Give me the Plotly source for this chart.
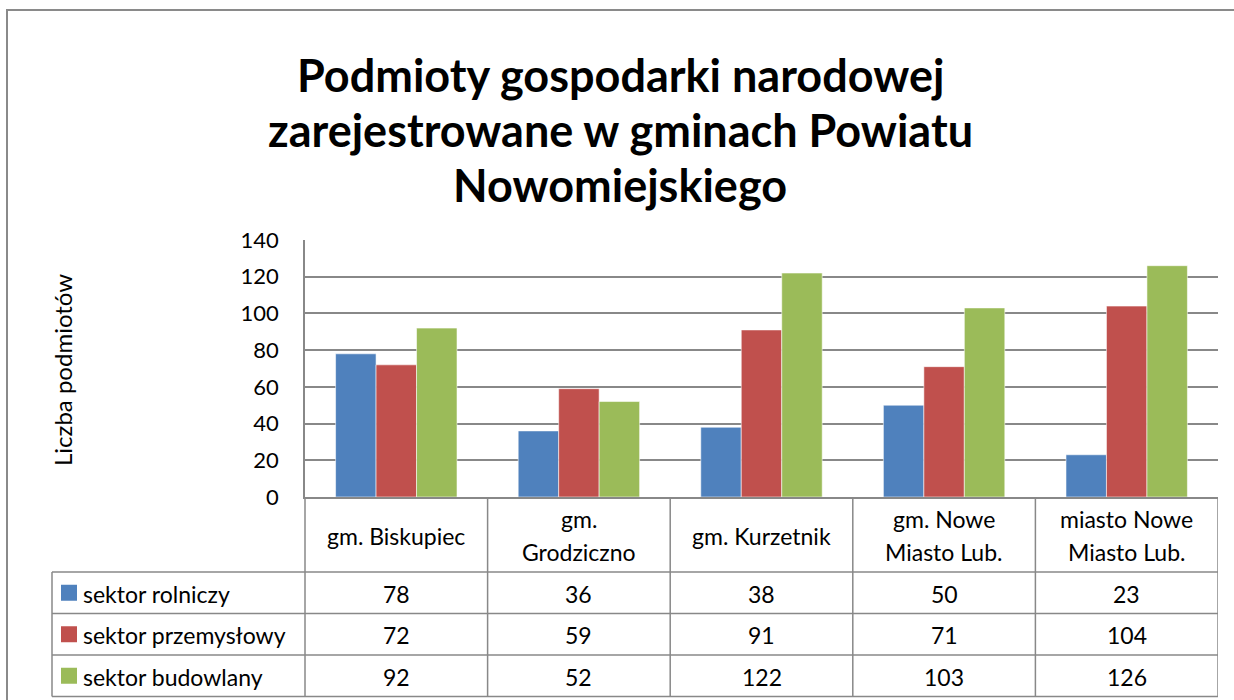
import plotly.graph_objects as go

# ---- data ----
categories = ["gm. Biskupiec", "gm. Grodziczno", "gm. Kurzetnik",
              "gm. Nowe Miasto Lub.", "miasto Nowe Miasto Lub."]
header_lines = [["gm. Biskupiec"], ["gm.", "Grodziczno"], ["gm. Kurzetnik"],
                ["gm. Nowe", "Miasto Lub."], ["miasto Nowe", "Miasto Lub."]]
series_names = ["sektor rolniczy", "sektor przemysłowy", "sektor budowlany"]
rolniczy = [78, 36, 38, 50, 23]
przemyslowy = [72, 59, 91, 71, 104]
budowlany = [92, 52, 122, 103, 126]
series_values = [rolniczy, przemyslowy, budowlany]
colors = ["#4F81BD", "#C0504D", "#9BBB59"]
y_ticks = [0, 20, 40, 60, 80, 100, 120, 140]
title_lines = ["Podmioty gospodarki narodowej", "zarejestrowane w gminach Powiatu", "Nowomiejskiego"]

W, H = 1234, 700
OFF = 0  # body margin removed via post_script
FONT = "Lato"
GRID = "#888888"


def px(x):
    return (x - OFF) / W


def py(y):
    return 1 - (y - OFF) / H


plot_left, plot_right, plot_top, plot_bottom = 305, 1218, 240, 497
header_bottom = 572
row_h = 41.5
table_left = 52
TS = 22
TT = 23

fig = go.Figure()
for name, vals, col in zip(series_names, series_values, colors):
    fig.add_trace(go.Bar(
        x=categories, y=vals, name=name,
        marker=dict(color=col, line=dict(color="rgba(255,255,255,0.55)", width=1)),
        hoverinfo="skip",
    ))

shapes = []
annotations = []

# chart frame
shapes.append(dict(type="rect", xref="paper", yref="paper",
                   x0=px(7), x1=px(W + 30), y0=py(10), y1=py(H + 30),
                   line=dict(color="#8a8a8a", width=2)))

# table horizontal lines
for i in range(4):
    yy = header_bottom + i * row_h
    shapes.append(dict(type="line", xref="paper", yref="paper",
                       x0=px(table_left), x1=px(plot_right), y0=py(yy), y1=py(yy),
                       line=dict(color=GRID, width=1.5)))
table_bottom = header_bottom + 3 * row_h
# table vertical lines
shapes.append(dict(type="line", xref="paper", yref="paper",
                   x0=px(table_left), x1=px(table_left), y0=py(header_bottom), y1=py(table_bottom),
                   line=dict(color=GRID, width=1.5)))
shapes.append(dict(type="line", xref="paper", yref="paper",
                   x0=px(plot_left), x1=px(plot_left), y0=py(plot_bottom), y1=py(table_bottom),
                   line=dict(color=GRID, width=1.5)))
for i in range(len(categories)):
    shapes.append(dict(type="line", xref="x", yref="paper",
                       x0=i + 0.5, x1=i + 0.5, y0=py(plot_bottom), y1=py(table_bottom),
                       line=dict(color=GRID, width=1.5)))

# title
for k, ln in enumerate(title_lines):
    annotations.append(dict(x=px(620), y=py(75 + k * 55), xref="paper", yref="paper",
                            text="<b>" + ln + "</b>", showarrow=False,
                            xanchor="center", yanchor="middle",
                            font=dict(family=FONT, size=45, color="black")))

# header labels
header_c = (plot_bottom + header_bottom) / 2 + 1
for cat, lines in zip(categories, header_lines):
    n = len(lines)
    for k, ln in enumerate(lines):
        yy = header_c + (k - (n - 1) / 2) * 33
        annotations.append(dict(x=cat, y=py(yy), xref="x", yref="paper",
                                text=ln, showarrow=False, xanchor="center", yanchor="middle",
                                font=dict(family=FONT, size=TT, color="black")))

# data rows
for r, (name, vals, col) in enumerate(zip(series_names, series_values, colors)):
    yc = header_bottom + (r + 0.5) * row_h
    shapes.append(dict(type="rect", xref="paper", yref="paper",
                       x0=px(61), x1=px(77), y0=py(yc - 8), y1=py(yc + 8),
                       fillcolor=col, line=dict(width=0)))
    annotations.append(dict(x=px(81), y=py(yc + 1), xref="paper", yref="paper",
                            text=name, showarrow=False, xanchor="left", yanchor="middle",
                            font=dict(family=FONT, size=TT, color="black")))
    for cat, v in zip(categories, vals):
        annotations.append(dict(x=cat, y=py(yc + 1), xref="x", yref="paper",
                                text=str(v), showarrow=False, xanchor="center", yanchor="middle",
                                font=dict(family=FONT, size=TT, color="black")))

# y axis title
annotations.append(dict(x=px(62), y=py(370), xref="paper", yref="paper",
                        text="Liczba podmiotów", textangle=-90, showarrow=False,
                        xanchor="center", yanchor="middle",
                        font=dict(family=FONT, size=24, color="black")))

fig.update_layout(
    width=W, height=H,
    margin=dict(l=0, r=0, t=0, b=0, autoexpand=False),
    paper_bgcolor="white", plot_bgcolor="white",
    showlegend=False,
    barmode="group", bargap=0.335, bargroupgap=0,
    xaxis=dict(domain=[px(plot_left), px(plot_right)], range=[-0.5, len(categories) - 0.5],
               showticklabels=False, showgrid=False, showline=True, linecolor=GRID, linewidth=1.5,
               ticks="", zeroline=False, automargin=False),
    yaxis=dict(domain=[py(plot_bottom), py(plot_top)], range=[0, 140],
               tickvals=y_ticks, ticktext=[str(t) for t in y_ticks],
               showgrid=True, gridcolor=GRID, gridwidth=1.5,
               showline=True, linecolor=GRID, linewidth=1.5, zeroline=False,
               ticks="", ticklabelstandoff=20, automargin=False,
               tickfont=dict(family=FONT, size=TS, color="black")),
    shapes=shapes, annotations=annotations,
)

fig.write_html("out.html",
               config={"displayModeBar": False},
               post_script="document.body.style.margin='0';document.body.style.overflow='hidden';")
